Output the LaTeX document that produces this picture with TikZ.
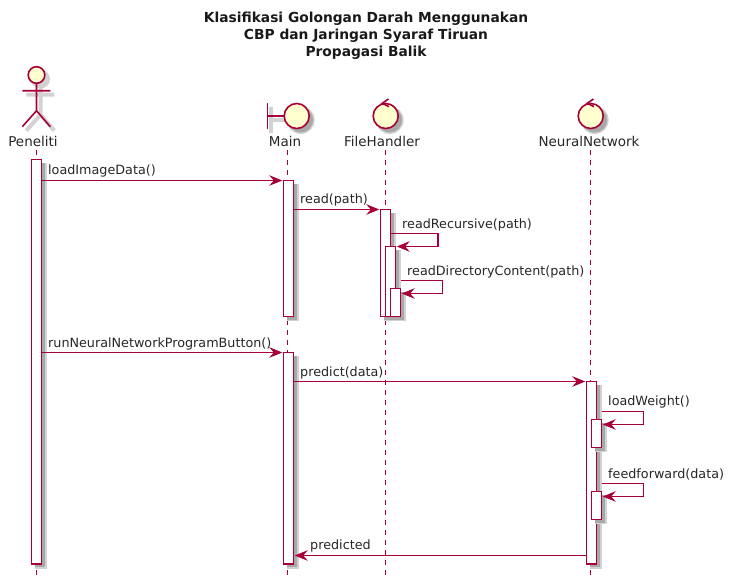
\documentclass[tikz,border=0pt]{standalone}
\usepackage{fontspec}
\setmainfont{DejaVu Sans}
\usetikzlibrary{arrows.meta}
\definecolor{pu}{HTML}{A80036}
\definecolor{puf}{HTML}{FEFECE}
\definecolor{shd}{HTML}{D2D2D2}
\definecolor{shdb}{HTML}{A8A8A8}
\tikzset{
  lbl/.style={inner sep=0pt,anchor=base west,font=\fontsize{12.75}{15}\selectfont,text=black!85},
  part/.style={inner sep=0pt,anchor=base,font=\fontsize{13.5}{15}\selectfont,text=black!85},
  act/.style={draw=pu,line width=1.15pt,fill=white,inner sep=0pt,outer sep=0pt,minimum width=10pt,anchor=north west},
  shad/.style={fill=shd,draw=none},
  shadb/.style={fill=shdb,draw=none},
  shadl/.style={draw=shd,line width=4pt},
  msg/.style={draw=pu,line width=1.15pt,-{Stealth[length=13pt,width=10.5pt,inset=4.5pt,fill=pu]},shorten >=1.2pt},
  life/.style={draw=pu,line width=1pt,dash pattern=on 5pt off 5pt},
  icon/.style={draw=pu,line width=1.6pt,fill=puf},
  iconl/.style={draw=pu,line width=1.6pt}
}
\newcommand{\actbox}[4]{% name,x,ytop,ybottom
  \fill[shad] (#2+3,#3+3) rectangle (#2+15,#4+4.5);
  \fill[shadb] (#2+3,#3+3) rectangle (#2+13.5,#4+3);
  \node[act,minimum height=#4pt-#3pt] (#1) at (#2,#3) {};
}
\begin{document}
\begin{tikzpicture}[x=1pt,y=-1pt]
\useasboundingbox (0,0) rectangle (733,584);
% title
\node[inner sep=0pt,anchor=north,font=\fontsize{13.8}{17}\bfseries\selectfont,align=center,text=black!90] (title) at (366,12.3)
  {Klasifikasi Golongan Darah Menggunakan\\CBP dan Jaringan Syaraf Tiruan\\Propagasi Balik};
% participant labels
\node[part] (pPen) at (33,146) {Peneliti};
\node[part] (pMain) at (285,146) {Main};
\node[part] (pFile) at (382,146) {FileHandler};
\node[part] (pNN) at (589,146) {NeuralNetwork};
% lifeline ends
\coordinate (e1) at (36.5,575);
\coordinate (e2) at (287.5,575);
\coordinate (e3) at (385.5,575);
\coordinate (e4) at (590.7,575);
\draw[life] (36.5,150) -- (e1);
\draw[life] (287.5,150) -- (e2);
\draw[life] (385.5,150) -- (e3);
\draw[life] (590.7,150) -- (e4);
% actor
\begin{scope}[shift={(4,4)}]
  \fill[shad] (36.5,75) circle (9.5);
  \draw[shadl] (36.5,83) -- (36.5,110.7) (22.3,90.7) -- (50.3,90.7) (22.3,126.7) -- (36.5,110.7) -- (50.3,126.7);
\end{scope}
\draw[iconl] (36.5,83.3) -- (36.5,110.7) (22.3,90.7) -- (50.3,90.7) (22.3,126.7) -- (36.5,110.7) -- (50.3,126.7);
\draw[icon] (36.5,75) circle (8.3);
% boundary
\begin{scope}[shift={(4,4)}]
  \fill[shad] (296.7,116) circle (14);
  \fill[shdb] (296.7,116) circle (12.5);
  \draw[shadl] (267.3,103.3) -- (267.3,128.7) (267.3,116) -- (284,116);
\end{scope}
\draw[iconl] (267.3,103.3) -- (267.3,128.7) (267.3,116) -- (284.2,116);
\draw[icon] (296.7,116) circle (12.5);
% controls
\foreach \cx in {385.7,590.7}{
  \fill[shad] (\cx+4,120) circle (14);
  \fill[shdb] (\cx+4,120) circle (12.5);
  \draw[icon] (\cx,116) circle (12.5);
  \draw[iconl] (\cx+2.8,99) -- (\cx-3.5,103.3) -- (\cx+3.3,106.7);
}
% activations
\actbox{aPen}{31.5}{159.5}{564}
\actbox{aMainA}{283.5}{180.5}{316.5}
\actbox{aFileA}{380.5}{209.5}{316.5}
\actbox{aFileB}{385.5}{246.5}{316.5}
\actbox{aFileC}{390.5}{288.5}{316.5}
\actbox{aMainB}{283.5}{352.5}{564}
\actbox{aNN}{586.5}{381.5}{564}
\actbox{aNNA}{591.5}{419.5}{447.5}
\actbox{aNNB}{591.5}{491.5}{519.5}
% message levels
\coordinate (m1) at (0,180.5);
\coordinate (m2) at (0,209.5);
\coordinate (m3) at (0,352.5);
\coordinate (m4) at (0,381.5);
\coordinate (m5) at (0,555.5);
\coordinate (s1) at (438,233.5);
\coordinate (s1b) at (438,246.5);
\coordinate (s2) at (442.7,280.5);
\coordinate (s2b) at (442.7,293.5);
\coordinate (s3) at (643.5,411.5);
\coordinate (s3b) at (643.5,424.5);
\coordinate (s4) at (643.5,483.5);
\coordinate (s4b) at (643.5,496.5);
% messages
\draw[msg] (aPen.east |- m1) -- (aMainA.west |- m1);
\draw[msg] (aMainA.east |- m2) -- (aFileA.west |- m2);
\draw[msg] (aPen.east |- m3) -- (aMainB.west |- m3);
\draw[msg] (aMainB.east |- m4) -- (aNN.west |- m4);
\draw[msg] (aNN.west |- m5) -- (aMainB.east |- m5);
\draw[msg] (aFileA.east |- s1) -- (s1) -- (s1b) -- (aFileB.east |- s1b);
\draw[msg] (aFileC.east |- s2) -- (s2) -- (s2b) -- (aFileC.east |- s2b);
\draw[msg] (aNNA.east |- s3) -- (s3) -- (s3b) -- (aNNA.east |- s3b);
\draw[msg] (aNNB.east |- s4) -- (s4) -- (s4b) -- (aNNB.east |- s4b);
% labels
\node[lbl] (l1) at (48,174) {loadImageData()};
\node[lbl] (l2) at (300,203) {read(path)};
\node[lbl] (l3) at (402,228) {readRecursive(path)};
\node[lbl] (l4) at (407,275) {readDirectoryContent(path)};
\node[lbl] (l5) at (48,347) {runNeuralNetworkProgramButton()};
\node[lbl] (l6) at (300,376) {predict(data)};
\node[lbl] (l7) at (608,405) {loadWeight()};
\node[lbl] (l8) at (608,478) {feedforward(data)};
\node[lbl] (l9) at (310,549.5) {predicted};
\end{tikzpicture}
\end{document}
